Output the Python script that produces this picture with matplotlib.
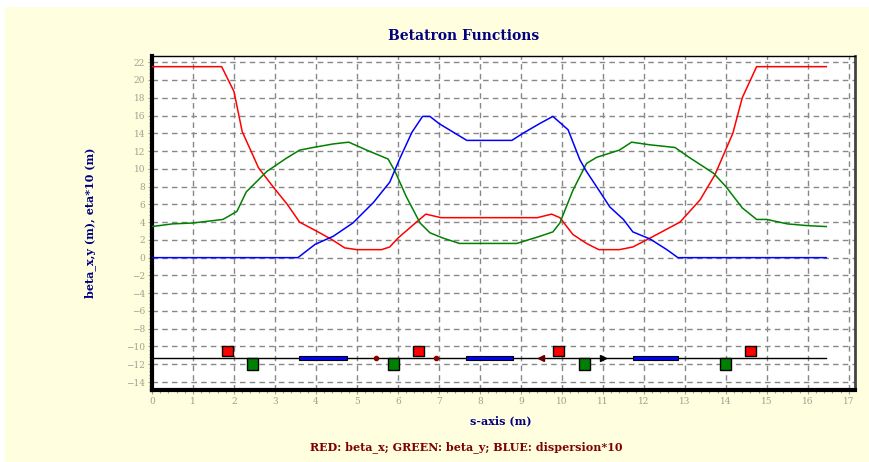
import numpy as np
import matplotlib
matplotlib.use("Agg")
import matplotlib.pyplot as plt
from matplotlib.patches import Rectangle
from matplotlib.ticker import MultipleLocator

# beta_x (red)
s_x = [0, 1.7, 2.0, 2.2, 2.6, 2.95, 3.3, 3.6, 4.05, 4.4, 4.7, 5.0, 5.6, 5.8, 6.0, 6.45, 6.68,
       7.05, 9.4, 9.75, 9.95, 10.27, 10.6, 10.9, 11.4, 11.73, 12.15, 12.88, 13.37, 13.73, 14.17,
       14.4, 14.75, 16.45]
beta_x = [21.5, 21.5, 18.7, 14.2, 10.1, 8.0, 6.0, 4.0, 2.9, 2.0, 1.1, 0.9, 0.9, 1.2, 2.2, 4.0, 4.9,
          4.5, 4.5, 4.9, 4.5, 2.6, 1.6, 0.9, 0.9, 1.2, 2.2, 4.0, 6.5, 9.3, 14.0,
          18.0, 21.5, 21.5]

# beta_y (green)
s_y = [0, 0.5, 1.0, 1.73, 2.07, 2.3, 2.8, 3.28, 3.6, 3.93, 4.42, 4.8, 5.24, 5.76, 5.93, 6.2,
       6.54, 6.78, 7.1, 7.5, 8.9, 9.46, 9.78, 9.95, 10.27, 10.6, 10.85, 11.4, 11.7, 12.15,
       12.76, 13.1, 13.7, 14.0, 14.4, 14.75, 15.0, 15.5, 16.0, 16.45]
beta_y = [3.5, 3.8, 3.9, 4.3, 5.2, 7.4, 9.7, 11.2, 12.1, 12.4, 12.8, 13.0, 12.1, 11.1, 9.7, 6.9,
          3.9, 2.8, 2.2, 1.6, 1.6, 2.4, 2.9, 3.9, 7.6, 10.6, 11.3, 12.1, 13.0, 12.7,
          12.4, 11.3, 9.5, 8.0, 5.6, 4.3, 4.3, 3.8, 3.6, 3.5]

# dispersion*10 (blue)
s_d = [0, 3.56, 3.98, 4.42, 4.9, 5.4, 5.8, 6.05, 6.34, 6.6, 6.78, 7.0, 7.68, 8.78, 9.05, 9.46,
       9.78, 10.15, 10.44, 10.6, 10.93, 11.17, 11.5, 11.73, 12.15, 12.56, 12.83, 16.45]
eta10 = [0, 0, 1.5, 2.4, 3.9, 6.2, 8.5, 11.2, 14.1, 15.9, 15.9, 15.1, 13.2, 13.2, 14.0, 15.1,
         15.9, 14.4, 11.0, 9.7, 7.4, 5.7, 4.3, 2.9, 2.1, 0.9, 0, 0]

# lattice elements
line_y = -11.3
line_end = 16.45
qf_pos = [1.84, 6.5, 9.92, 14.6]
qd_pos = [2.45, 5.89, 10.55, 14.0]
bends = [(3.59, 4.75), (7.66, 8.8), (11.73, 12.83)]
dots = [5.46, 6.93]
arrow_left = 9.5
arrow_right = 11.0

navy = "#000080"
fig = plt.figure(figsize=(8.7, 4.62), dpi=100)
fig.patch.set_facecolor("white")
fig.patches.append(Rectangle((5 / 870, 0), 1, 1 - 7 / 462, transform=fig.transFigure,
                             facecolor="#ffffe0", edgecolor="none", zorder=-10))

ax = fig.add_axes([152 / 870, 1 - 390 / 462, 703 / 870, 334 / 462])
ax.set_facecolor("white")
ax.set_xlim(0, 17.15)
ax.set_ylim(-14.9, 22.7)

ax.plot(s_x, beta_x, color="red", lw=1.1, zorder=3)
ax.plot(s_y, beta_y, color="green", lw=1.1, zorder=3)
ax.plot(s_d, eta10, color="blue", lw=1.1, zorder=3)

# beam line and magnets
ax.plot([0, line_end], [line_y, line_y], color="black", lw=1, zorder=3)
w = 0.27
for p in qf_pos:
    ax.add_patch(Rectangle((p - w / 2, line_y + 0.2), w, 1.2, facecolor="red",
                           edgecolor="black", lw=1, zorder=4))
for p in qd_pos:
    ax.add_patch(Rectangle((p - w / 2, line_y - 1.4), w, 1.4, facecolor="green",
                           edgecolor="black", lw=1, zorder=4))
for a, b in bends:
    ax.add_patch(Rectangle((a, line_y - 0.25), b - a, 0.5, facecolor="blue",
                           edgecolor="black", lw=0.8, zorder=4))
ax.plot(dots, [line_y] * len(dots), "o", color="#8b0000", ms=3, zorder=5)
ax.plot([arrow_left], [line_y], "<", color="#600000", ms=4, zorder=5)
ax.plot([arrow_right], [line_y], ">", color="black", ms=4, zorder=5)

# grid, ticks and frame
ax.set_xticks(np.arange(0, 18, 1))
ax.set_yticks(np.arange(-14, 23, 2))
ax.xaxis.set_minor_locator(MultipleLocator(0.2))
ax.yaxis.set_minor_locator(MultipleLocator(0.4))
ax.grid(True, which="major", color="#888888", ls=(0, (4, 3)), lw=1)
ax.tick_params(which="both", direction="out", colors="#a0a090", labelsize=6.5,
               length=3, width=0.8, pad=2)
ax.tick_params(which="minor", length=2)
for lab in ax.get_xticklabels() + ax.get_yticklabels():
    lab.set_family("DejaVu Serif")
for side in ["left", "bottom"]:
    ax.spines[side].set_linewidth(3)
ax.spines["top"].set_linewidth(1)
ax.spines["right"].set_linewidth(2)
ax.spines["right"].set_color("#444444")

fig.text(464 / 870, 1 - 36 / 462, "Betatron Functions", ha="center", va="center",
         color=navy, fontsize=10, fontweight="bold", family="DejaVu Serif")
fig.text(501 / 870, 1 - 421 / 462, "s-axis (m)", ha="center", va="center",
         color=navy, fontsize=8, fontweight="bold", family="DejaVu Serif")
fig.text(90 / 870, 1 - 223 / 462, "beta_x,y (m), eta*10 (m)", ha="center", va="center",
         rotation=90, color=navy, fontsize=8, fontweight="bold", family="DejaVu Serif")
fig.text(466 / 870, 1 - 447 / 462, "RED: beta_x; GREEN: beta_y; BLUE: dispersion*10",
         ha="center", va="center", color="#800000", fontsize=8, fontweight="bold",
         family="DejaVu Serif")

fig.savefig("out.png", dpi=100, facecolor=fig.get_facecolor())
